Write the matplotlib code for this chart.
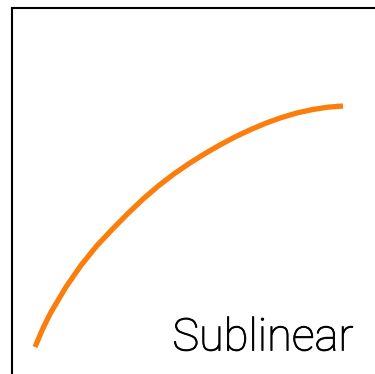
import matplotlib.pyplot as plt
import matplotlib.patheffects as pe

# points (axes units, 0-100)
curve_x = [6.27, 8.32, 10.37, 14.48, 18.59, 22.69, 26.80, 30.91, 35.01, 39.12, 43.23,
           47.33, 51.44, 55.55, 59.65, 63.76, 67.87, 71.97, 76.08, 80.19, 84.29, 88.40]
curve_y = [9.47, 14.29, 18.46, 25.41, 31.32, 36.40, 40.77, 44.94, 48.86, 52.40, 55.55,
           58.38, 60.95, 63.33, 65.51, 67.44, 69.17, 70.65, 71.87, 72.77, 73.42, 73.73]
label = 'Sublinear'

fig = plt.figure(figsize=(3.75, 3.74), dpi=100)
# axes runs past the right and bottom edges, as in the reference
ax = fig.add_axes([11.5 / 375, -8.5 / 374, 1.0, 375 / 374])
ax.plot(curve_x, curve_y, color='#fb7d0c', lw=3.8, solid_capstyle='butt', solid_joinstyle='round')
ax.set_xlim(0, 100)
ax.set_ylim(0, 100)
ax.set_xticks([])
ax.set_yticks([])
for s in ax.spines.values():
    s.set_linewidth(1.5)
    s.set_color('black')

ax.text((353.5 - 11.5) / 375, (382.5 - 350.5) / 375, label, transform=ax.transAxes,
        ha='right', va='baseline', fontsize=32.5, fontweight='light',
        family=['Roboto', 'Lato', 'DejaVu Sans'],
        path_effects=[pe.withStroke(linewidth=0.6, foreground='black')])

fig.savefig('out.png', dpi=100)
